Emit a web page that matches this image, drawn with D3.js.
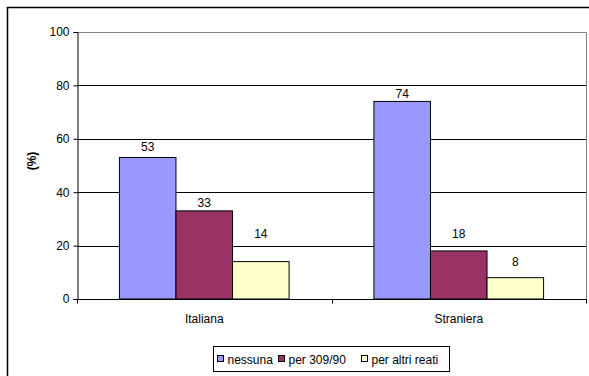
<!DOCTYPE html>
<html>
<head>
<meta charset="utf-8">
<script src="https://cdn.jsdelivr.net/npm/d3@7"></script>
<style>
body { margin: 0; background: #fff; }
text { font-family: "Liberation Sans", Arial, sans-serif; fill: #000; }
</style>
</head>
<body>
<div id="chart"></div>
<script>
// data
var categories = ["Italiana", "Straniera"];
var seriesNames = ["nessuna", "per 309/90", "per altri reati"];
var seriesColors = ["#9999ff", "#993366", "#ffffcc"];
var nessuna = [53, 74];
var per30990 = [33, 18];
var altriReati = [14, 8];
var yTicks = [0, 20, 40, 60, 80, 100];

var series = [nessuna, per30990, altriReati];
// how far each value label sits above its bar (px), as placed in the original
var labelLift = [[10, 7], [8, 17], [28, 16]];

var W = 589, H = 376;
var plot = { left: 77, top: 32, right: 586, bottom: 299 };

var svg = d3.select("#chart").append("svg")
	.attr("width", W)
	.attr("height", H);

// outer chart frame (cut off at right and bottom)
svg.append("path")
	.attr("d", "M7.5," + H + "V7.5H" + W)
	.attr("fill", "none")
	.attr("stroke", "#000")
	.attr("stroke-width", 1.5);

var x = d3.scaleBand().domain(categories).range([plot.left, plot.right]);
var y = d3.scaleLinear().domain([0, 100]).range([plot.bottom, plot.top]);

// gridlines
svg.append("g").selectAll("line").data(yTicks.filter(function(d) { return d > 0; })).enter().append("line")
	.attr("x1", plot.left).attr("x2", plot.right)
	.attr("y1", function(d) { return Math.round(y(d)) + 0.5; })
	.attr("y2", function(d) { return Math.round(y(d)) + 0.5; })
	.attr("stroke", "#000");

// plot border (top / right in grey)
svg.append("path")
	.attr("d", "M" + plot.left + "," + (Math.round(plot.top) + 0.5) + "H" + (plot.right + 0.5) + "V" + plot.bottom)
	.attr("fill", "none")
	.attr("stroke", "#808080");

// bars: gap width 150% of a bar
var bw = x.bandwidth();
var barW = bw / (3 + 1.5);
var groupPad = (bw - 3 * barW) / 2;

series.forEach(function(vals, s) {
	var g = svg.append("g");
	g.selectAll("rect").data(vals).enter().append("rect")
		.attr("x", function(d, i) { return x(categories[i]) + groupPad + s * barW; })
		.attr("y", function(d) { return y(d); })
		.attr("width", barW)
		.attr("height", function(d) { return y(0) - y(d); })
		.attr("fill", seriesColors[s])
		.attr("stroke", "#000")
		.attr("stroke-width", 1);
	g.selectAll("text").data(vals).enter().append("text")
		.attr("x", function(d, i) { return x(categories[i]) + groupPad + (s + 0.5) * barW; })
		.attr("y", function(d, i) { return y(d) - labelLift[s][i] + 4; })
		.attr("text-anchor", "middle")
		.attr("font-size", 12)
		.text(function(d) { return d; });
});

// y axis
var yAxis = svg.append("g")
	.attr("transform", "translate(" + (plot.left + 0.5) + ",0)")
	.call(d3.axisLeft(y).tickValues(yTicks).tickSize(4).tickPadding(4));
yAxis.select(".domain").attr("stroke", "#000");
yAxis.selectAll("text").attr("font-size", 12).attr("font-family", "Liberation Sans, Arial, sans-serif");

// x axis
var xAxis = svg.append("g")
	.attr("transform", "translate(0," + (plot.bottom + 0.5) + ")");
xAxis.append("line")
	.attr("x1", plot.left).attr("x2", plot.right + 1)
	.attr("stroke", "#000");
xAxis.selectAll("line.tick").data(categories.concat(["end"])).enter().append("line")
	.attr("class", "tick")
	.attr("x1", function(d, i) { return Math.round(plot.left + i * bw) + 0.5; })
	.attr("x2", function(d, i) { return Math.round(plot.left + i * bw) + 0.5; })
	.attr("y1", 0).attr("y2", 4)
	.attr("stroke", "#000");
xAxis.selectAll("text").data(categories).enter().append("text")
	.attr("x", function(d) { return x(d) + bw / 2; })
	.attr("y", 23)
	.attr("text-anchor", "middle")
	.attr("font-size", 12)
	.text(function(d) { return d; });

// y axis title
svg.append("text")
	.attr("transform", "translate(36,161) rotate(-90)")
	.attr("text-anchor", "middle")
	.attr("font-size", 12)
	.attr("font-weight", "bold")
	.text("(%)");

// legend
var legend = svg.append("g").attr("transform", "translate(213.5,346.5)");
legend.append("rect")
	.attr("width", 236).attr("height", 25)
	.attr("fill", "#fff").attr("stroke", "#000");
var itemX = [4, 65, 148];
seriesNames.forEach(function(name, i) {
	legend.append("rect")
		.attr("x", itemX[i]).attr("y", 9)
		.attr("width", 6).attr("height", 6)
		.attr("fill", seriesColors[i]).attr("stroke", "#000");
	legend.append("text")
		.attr("x", itemX[i] + 10).attr("y", 17)
		.attr("font-size", 12)
		.text(name);
});
</script>
</body>
</html>
